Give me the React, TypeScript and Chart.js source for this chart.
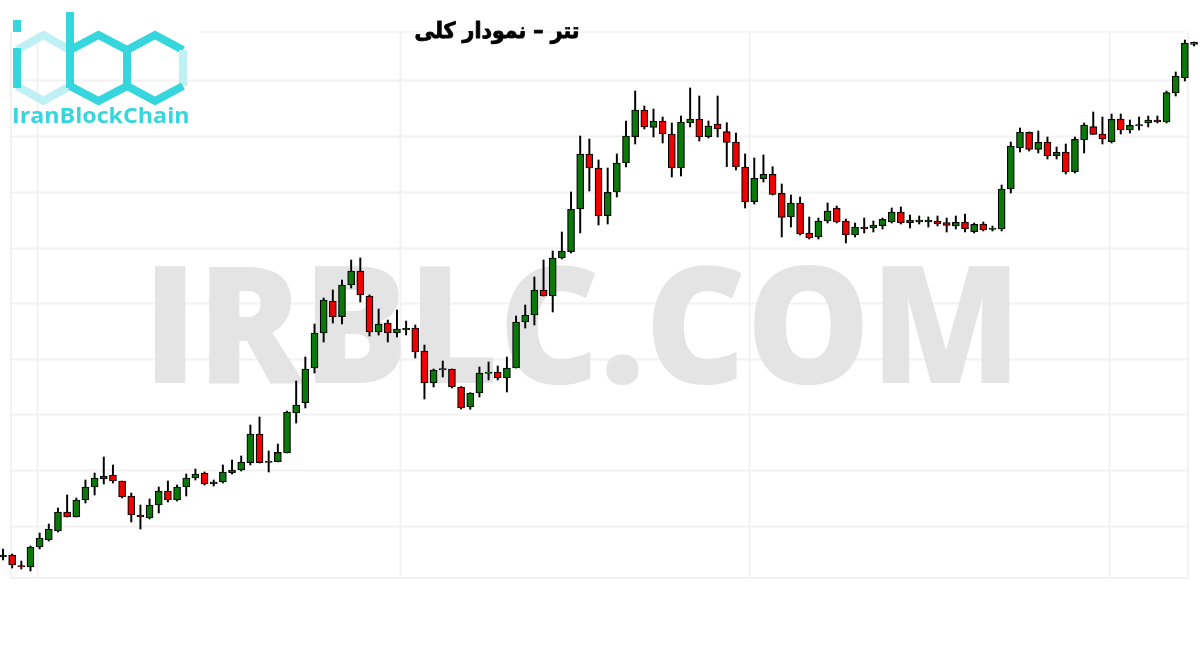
import React, { useEffect, useRef } from 'react';
import { Chart, registerables } from 'chart.js';

Chart.register(...registerables);

// OHLC values (arbitrary price units)
const openPrices = [
  93, 95, 84.5, 83, 103, 110, 119, 138, 133, 150,
  163, 171.3, 175, 169, 154, 135, 132, 145, 159, 150,
  163, 172, 177, 166, 168, 177.3, 180, 187.3, 216, 187.5,
  188.3, 197, 237, 247.3, 282, 317, 349, 333.3, 365, 379,
  354, 318, 327, 317, 320.3, 322, 299, 267, 280, 281,
  263, 243, 257, 276.6, 278, 272, 282, 328, 335, 360,
  354, 392, 398.3, 441, 496, 482, 434.3, 458, 487, 513.3,
  540, 522.7, 529, 516, 482, 527, 531, 513.3, 526, 518.3,
  508, 483, 448.3, 471.3, 475.7, 456.7, 433, 447, 417, 413,
  429, 442, 429, 415, 423, 422, 424.3, 428, 438, 427.3,
  428, 428, 429, 427.3, 424, 428, 418.3, 426, 420.5, 421,
  461, 502, 517.7, 500.7, 508, 494.3, 498, 478.3, 510, 523.3,
  516, 508.3, 531, 520, 524, 527, 530, 528, 557, 572,
  605.7,
];
const highPrices = [
  101, 96, 89, 104, 117, 126, 142, 155, 152, 170,
  177, 193, 185, 169, 157, 145, 151, 163, 169, 165,
  176, 181, 178, 170, 185, 190, 194, 225, 233, 199,
  206, 239, 269, 293, 326, 352, 360, 370, 390, 392,
  355, 341, 330, 340, 329, 325, 305, 281, 289, 281,
  263.5, 257.3, 283, 288, 284, 293, 334, 345, 373, 390,
  399, 418, 458, 514, 511, 490, 482, 496, 529, 559,
  544, 541, 533, 527, 534, 562, 554, 529, 554, 527.3,
  517, 496, 492, 495, 483.3, 466, 455, 453, 433, 432,
  447, 444, 431, 427, 432, 429, 432, 442, 443, 435,
  434, 433, 434, 432, 434, 436, 427, 428, 424, 465,
  508, 522, 518, 519, 513, 503, 506, 513, 527, 538,
  533, 536, 536, 530, 533, 534, 534, 559, 578, 610,
  608,
];
const lowPrices = [
  90, 82, 81, 79, 101, 109, 118, 133, 133, 147,
  155, 166, 167, 152, 128, 121, 131, 137, 148, 149,
  154, 170, 165, 164, 167, 176, 179, 185, 187, 178,
  188, 197, 227, 242, 277, 308, 327, 326, 362, 348,
  314, 315, 308, 313, 315, 292, 251, 263, 273, 262,
  241, 240.7, 253, 270, 270, 258, 282, 322, 325, 354,
  338, 391, 397, 417, 459, 425, 426, 453, 483, 506,
  521, 513, 507, 473, 474, 523, 509, 512, 513, 483.3,
  480, 442, 446, 468, 455, 413, 423, 415, 411, 411,
  427, 427, 407, 413, 417, 418, 421, 427, 426, 422,
  426, 423, 424, 418, 421, 418, 417, 419, 419, 419,
  457, 498, 499, 497, 491, 491, 476, 477, 497, 515.5,
  506, 507, 516, 517, 520, 523, 527, 527, 554, 569,
  604,
];
const closePrices = [
  95, 85, 83, 103, 112, 121, 138, 133, 150, 163,
  172, 173.7, 169, 153, 135, 133, 145, 159, 150, 163,
  172, 176, 166, 168, 178, 180, 188, 216, 187.3, 189,
  197.7, 238, 245, 281, 317, 350, 333, 365, 379, 355,
  318, 326, 317, 321, 321.7, 298, 267, 280, 281.3, 263,
  242, 257, 277, 278, 272, 282, 328, 335, 360, 354,
  392, 399, 440.7, 496, 482, 434, 457.7, 487, 514, 540,
  523, 529, 516, 482, 528, 531, 513, 524, 521, 507.7,
  483, 448, 471.7, 475.7, 455.7, 432.7, 447, 416, 412, 429,
  439, 428, 415, 423, 421, 425, 430.7, 438, 427, 430,
  430, 430, 426, 424.7, 427.7, 421, 425.7, 420, 422, 461,
  504, 518, 500.7, 507.7, 494, 497.7, 478, 510.7, 525, 515.7,
  511, 530.7, 520, 524.7, 525.5, 530, 528, 557.3, 574, 607,
  607.7,
];

const TITLE = 'تتر – نمودار کلی';
const WATERMARK = 'IRBLC.COM';
const LOGO_TEXT = 'IranBlockChain';

const GREEN = '#0a790a';
const RED = '#f20000';
const GRID = '#f2f2f2';
const CYAN = '#36d6de';
const PALE = '#bff0f3';

const GRID_Y = [570, 514, 458, 402, 347, 291, 236, 180, 124];
const GRID_X = [4.71, 44.33, 82.42, 121.71];
const FRAME = { x0: 1.87, x1: 130.33, top: 618, bottom: 72 };

function fitText(ctx: CanvasRenderingContext2D, text: string, font: string, left: number, bottom: number, w: number, h: number, color: string) {
  ctx.save();
  ctx.font = font;
  ctx.textAlign = 'left';
  ctx.textBaseline = 'alphabetic';
  const m = ctx.measureText(text);
  const inkW = m.actualBoundingBoxLeft + m.actualBoundingBoxRight;
  const inkH = m.actualBoundingBoxAscent + m.actualBoundingBoxDescent;
  ctx.translate(left, bottom);
  ctx.scale(w / inkW, h / inkH);
  ctx.fillStyle = color;
  ctx.fillText(text, m.actualBoundingBoxLeft, -m.actualBoundingBoxDescent);
  ctx.restore();
}

const backgroundPlugin = {
  id: 'backgroundDecor',
  beforeDraw(chart: any) {
    const { ctx } = chart;
    const x = chart.scales.x;
    const y = chart.scales.y;
    ctx.save();
    ctx.fillStyle = '#ffffff';
    ctx.fillRect(0, 0, chart.width, chart.height);
    ctx.strokeStyle = GRID;
    ctx.lineWidth = 2;
    const left = x.getPixelForValue(FRAME.x0);
    const right = x.getPixelForValue(FRAME.x1);
    const top = y.getPixelForValue(FRAME.top);
    const bottom = y.getPixelForValue(FRAME.bottom);
    for (const v of GRID_Y) {
      const py = Math.round(y.getPixelForValue(v)) + 0.5;
      ctx.beginPath();
      ctx.moveTo(left, py);
      ctx.lineTo(right, py);
      ctx.stroke();
    }
    for (const v of GRID_X) {
      const px = Math.round(x.getPixelForValue(v)) + 0.5;
      ctx.beginPath();
      ctx.moveTo(px, top);
      ctx.lineTo(px, bottom);
      ctx.stroke();
    }
    ctx.beginPath();
    ctx.moveTo(left, top);
    ctx.lineTo(left, bottom);
    ctx.lineTo(right, bottom);
    ctx.lineTo(right, top);
    ctx.stroke();
    ctx.strokeStyle = '#f7f7f7';
    ctx.beginPath();
    ctx.moveTo(200, top);
    ctx.lineTo(right, top);
    ctx.stroke();
    ctx.restore();
  },
  beforeDatasetsDraw(chart: any) {
    const { ctx } = chart;
    fitText(ctx, WATERMARK, '800 170px "Open Sans"', 155, 385, 855, 120, '#e4e4e4');
  },
  afterDraw(chart: any) {
    const { ctx } = chart;
    // logo
    ctx.save();
    ctx.lineWidth = 8;
    ctx.lineJoin = 'miter';
    ctx.lineCap = 'butt';
    const seg = (pts: number[][], color: string) => {
      ctx.strokeStyle = color;
      ctx.beginPath();
      ctx.moveTo(pts[0][0], pts[0][1]);
      for (let i = 1; i < pts.length; i++) ctx.lineTo(pts[i][0], pts[i][1]);
      ctx.stroke();
    };
    const X0 = 17, X1 = 70, X2 = 127, X3 = 183;
    const T = 35, U = 50, D = 86, B = 101;
    // i
    seg([[X0, 20], [X0, 32]], CYAN);
    seg([[X0, U], [(X0 + X1) / 2, T], [X1, U]], PALE);
    seg([[X0, D], [(X0 + X1) / 2, B], [X1, D]], PALE);
    seg([[X0, U - 2], [X0, D + 2]], CYAN);
    // b
    seg([[X1, U], [(X1 + X2) / 2, T], [X2, U], [X2, D], [(X1 + X2) / 2, B], [X1, D]], CYAN);
    seg([[X1, 12], [X1, D + 2]], CYAN);
    // c
    seg([[X2, U], [(X2 + X3) / 2, T], [X3, U]], CYAN);
    seg([[X3, U], [X3, D]], PALE);
    seg([[X3, D], [(X2 + X3) / 2, B], [X2, D]], CYAN);
    ctx.restore();
    fitText(ctx, LOGO_TEXT, '700 22px "Open Sans"', 13, 123, 175, 16, CYAN);

    // title
    ctx.save();
    ctx.font = 'bold 22px "DejaVu Sans"';
    ctx.direction = 'rtl';
    ctx.textAlign = 'center';
    ctx.textBaseline = 'middle';
    ctx.fillStyle = '#000';
    ctx.strokeStyle = '#000';
    ctx.lineWidth = 0.9;
    ctx.lineJoin = 'round';
    const w = ctx.measureText(TITLE).width;
    ctx.translate(497, 32);
    ctx.scale(165 / w, 1);
    ctx.fillText(TITLE, 0, 0);
    ctx.strokeText(TITLE, 0, 0);
    ctx.restore();
  },
};

export default function App() {
  const ref = useRef<HTMLCanvasElement>(null);
  useEffect(() => {
    const canvas = ref.current;
    if (!canvas) return;
    const bodies = openPrices.map((o, i) => ({ x: i + 1, y: [o, closePrices[i]] }));
    const wicks = lowPrices.map((l, i) => ({ x: i + 1, y: [l, highPrices[i]] }));
    const colors = openPrices.map((o, i) => (closePrices[i] >= o ? GREEN : RED));
    const chart = new Chart(canvas, {
      type: 'bar',
      data: {
        datasets: [
          {
            label: 'body',
            data: bodies as any,
            backgroundColor: colors,
            borderColor: '#000',
            borderWidth: 1.2,
            borderSkipped: false,
            barThickness: 7,
            grouped: false,
            order: 0,
          } as any,
          {
            label: 'wick',
            data: wicks as any,
            backgroundColor: '#000',
            borderWidth: 0,
            barThickness: 1.3,
            grouped: false,
            order: 1,
          } as any,
        ],
      },
      options: {
        responsive: false,
        animation: false,
        events: [],
        layout: { padding: 0 },
        scales: {
          x: { type: 'linear', display: false, min: 0.673, max: 131.65, offset: false },
          y: { type: 'linear', display: false, min: 0, max: 650, beginAtZero: false },
        },
        plugins: {
          legend: { display: false },
          tooltip: { enabled: false },
          title: { display: false },
        },
      } as any,
      plugins: [backgroundPlugin],
    });
    return () => chart.destroy();
  }, []);
  return (
    <div style={{ position: 'absolute', left: 0, top: 0, width: 1200, height: 650, background: '#fff' }}>
      <canvas ref={ref} width={1200} height={650} style={{ display: 'block' }} />
    </div>
  );
}
